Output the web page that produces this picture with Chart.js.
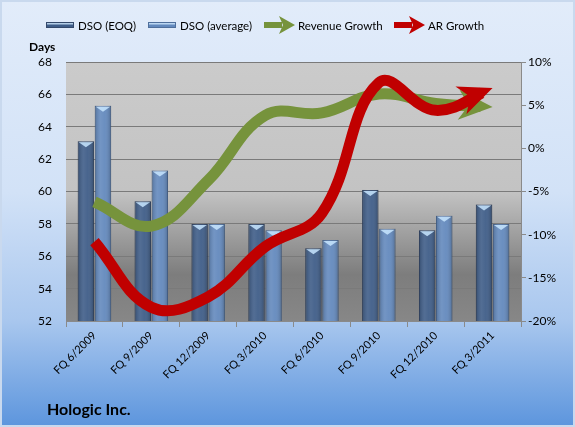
<!DOCTYPE html>
<html>
<head>
<meta charset="utf-8">
<script src="https://cdn.jsdelivr.net/npm/chart.js@4"></script>
<style>
  html, body { margin: 0; padding: 0; background: #fff; }
  #wrap { width: 575px; height: 427px; position: relative; }
</style>
</head>
<body>
<div id="wrap"><canvas id="chart" width="575" height="427"></canvas></div>
<script>
const categories = ["FQ 6/2009","FQ 9/2009","FQ 12/2009","FQ 3/2010","FQ 6/2010","FQ 9/2010","FQ 12/2010","FQ 3/2011"];
const dsoEoq = [63.1, 59.4, 58.0, 58.0, 56.5, 60.1, 57.6, 59.2];
const dsoAvg = [65.3, 61.3, 58.0, 57.6, 57.0, 57.7, 58.5, 58.0];
const revenueGrowth = [-6.2, -9.0, -3.7, 3.8, 4.1, 6.3, 5.2, 4.8];
const arGrowth = [-10.8, -18.4, -17.2, -11.4, -7.5, 7.6, 4.4, 7.0];
const daysTicks = [52, 54, 56, 58, 60, 62, 64, 66, 68];
const pctTicks = [-20, -15, -10, -5, 0, 5, 10];

const FONT = "Lato, 'Liberation Sans', sans-serif";

// backgrounds: outer blue panel and grey plot area
const backdrop = {
  id: "backdrop",
  beforeDraw(chart) {
    const { ctx, width, height, chartArea: a } = chart;
    ctx.save();
    let g = ctx.createLinearGradient(0, 0, 0, height);
    g.addColorStop(0, "#e2ecfa");
    g.addColorStop(0.45, "#d2e2f7");
    g.addColorStop(0.75, "#a9c7ee");
    g.addColorStop(1, "#5c95dd");
    ctx.fillStyle = g;
    ctx.fillRect(0, 0, width, height);
    ctx.strokeStyle = "#c9d9ee";
    ctx.lineWidth = 2;
    ctx.strokeRect(1, 1, width - 2, height - 2);
    g = ctx.createLinearGradient(0, a.top, 0, a.bottom);
    g.addColorStop(0, "#cbcbcb");
    g.addColorStop(0.5, "#c3c3c3");
    g.addColorStop(0.82, "#7d7d7d");
    g.addColorStop(1, "#878787");
    ctx.fillStyle = g;
    ctx.fillRect(a.left, a.top, a.right - a.left, a.bottom - a.top);
    ctx.restore();
  }
};

// cylinder shading on the bars
const barShade = {
  id: "barShade",
  afterDatasetDraw(chart, args) {
    const meta = args.meta;
    if (meta.type !== "bar") return;
    const { ctx, chartArea } = chart;
    ctx.save();
    meta.data.forEach(el => {
      const p = el.getProps(["x", "y", "base", "width"], true);
      const l = p.x - p.width / 2, w = p.width;
      const bottom = Math.min(p.base, chartArea.bottom);
      const g = ctx.createLinearGradient(l, 0, l + w, 0);
      g.addColorStop(0, "rgba(0,0,0,0.18)");
      g.addColorStop(0.35, "rgba(255,255,255,0.10)");
      g.addColorStop(0.6, "rgba(255,255,255,0.05)");
      g.addColorStop(1, "rgba(0,0,0,0.22)");
      ctx.fillStyle = g;
      ctx.fillRect(l, p.y, w, bottom - p.y);
      // top bevel
      ctx.beginPath();
      ctx.moveTo(l + 1, p.y + 1);
      ctx.lineTo(l + w - 1, p.y + 1);
      ctx.lineTo(p.x, p.y + 6);
      ctx.closePath();
      ctx.fillStyle = "rgba(200,230,255,0.85)";
      ctx.fill();
    });
    ctx.restore();
  }
};

// arrow heads at the end of the growth lines
function tipInfo(meta) {
  const pts = meta.data;
  const last = pts[pts.length - 1], prev = pts[pts.length - 2];
  let dx = last.x - (last.cp1x ?? prev.x), dy = last.y - (last.cp1y ?? prev.y);
  const len = Math.hypot(dx, dy) || 1;
  return { x: last.x, y: last.y, ux: dx / len, uy: dy / len };
}
const arrows = {
  id: "arrows",
  beforeDatasetDraw(chart, args) {
    if (args.meta.type !== "line") return;
    const t = tipInfo(args.meta);
    const { ctx, width, height } = chart;
    ctx.save();
    ctx.beginPath();
    ctx.rect(0, 0, width, height);
    ctx.moveTo(t.x + 13, t.y);
    ctx.arc(t.x, t.y, 13, 0, Math.PI * 2);
    ctx.clip("evenodd");
  },
  afterDatasetDraw(chart, args) {
    if (args.meta.type !== "line") return;
    const { ctx } = chart;
    ctx.restore();
    const t = tipInfo(args.meta);
    const ds = chart.data.datasets[args.index];
    const L = 28, H = 15, N = 6;
    const nx = -t.uy, ny = t.ux;
    const bx = t.x - t.ux * L, by = t.y - t.uy * L;
    ctx.save();
    ctx.fillStyle = ds.borderColor;
    ctx.beginPath();
    ctx.moveTo(t.x, t.y);
    ctx.lineTo(bx + nx * H - t.ux * N, by + ny * H - t.uy * N);
    ctx.lineTo(bx + t.ux * 4, by + t.uy * 4);
    ctx.lineTo(bx - nx * H - t.ux * N, by - ny * H - t.uy * N);
    ctx.closePath();
    ctx.fill();
    ctx.restore();
  }
};

// legend, "Days" label and company title
const decorations = {
  id: "decorations",
  afterDraw(chart) {
    const { ctx } = chart;
    const ds = chart.data.datasets;
    ctx.save();
    ctx.font = "11.5px " + FONT;
    ctx.fillStyle = "#000";
    ctx.textBaseline = "middle";
    const slots = [[46, 78], [148, 180], [264, 298], [394, 428]];
    ds.forEach((d, i) => {
      const [sx, tx] = slots[i];
      const y = 25;
      if (d.type === "bar") {
        ctx.fillStyle = d.backgroundColor;
        ctx.fillRect(sx, y - 3, 28, 6);
        ctx.strokeStyle = d.borderColor;
        ctx.lineWidth = 1;
        ctx.strokeRect(sx + 0.5, y - 2.5, 27, 5);
        ctx.fillStyle = "rgba(210,235,255,0.8)";
        ctx.fillRect(sx + 1, y - 2, 26, 1.5);
      } else {
        ctx.fillStyle = d.borderColor;
        ctx.fillRect(sx, y - 3, 18, 6);
        ctx.beginPath();
        ctx.moveTo(sx + 31, y);
        ctx.lineTo(sx + 15, y - 9);
        ctx.lineTo(sx + 19, y);
        ctx.lineTo(sx + 15, y + 9);
        ctx.closePath();
        ctx.fill();
      }
      ctx.fillStyle = "#000";
      ctx.textAlign = "left";
      ctx.fillText(d.label, tx, y + 1);
    });
    ctx.font = "bold 12px " + FONT;
    ctx.fillText("Days", 29, 47);
    ctx.font = "bold 16px " + FONT;
    ctx.fillText("Hologic Inc.", 47, 410);
    ctx.restore();
  }
};

new Chart(document.getElementById("chart"), {
  data: {
    labels: categories,
    datasets: [
      {
        type: "bar", label: "DSO (EOQ)", data: dsoEoq, yAxisID: "y",
        backgroundColor: "#3f5d88", borderColor: "#34496b", borderWidth: 1,
        order: 2, categoryPercentage: 0.6, barPercentage: 0.96
      },
      {
        type: "bar", label: "DSO (average)", data: dsoAvg, yAxisID: "y",
        backgroundColor: "#6389bd", borderColor: "#4f6f9c", borderWidth: 1,
        order: 3, categoryPercentage: 0.6, barPercentage: 0.96
      },
      {
        type: "line", label: "Revenue Growth", data: revenueGrowth, yAxisID: "y2",
        borderColor: "#76933c", borderWidth: 11, tension: 0.4, pointRadius: 0,
        borderCapStyle: "butt", order: 1
      },
      {
        type: "line", label: "AR Growth", data: arGrowth, yAxisID: "y2",
        borderColor: "#c00000", borderWidth: 11, tension: 0.4, pointRadius: 0,
        borderCapStyle: "butt", order: 0
      }
    ]
  },
  options: {
    responsive: false,
    animation: false,
    layout: { padding: { top: 62, left: 0, right: 0, bottom: 0 } },
    plugins: { legend: { display: false }, tooltip: { enabled: false } },
    scales: {
      x: {
        offset: true,
        grid: { offset: true, drawOnChartArea: false, tickLength: 6, color: "#8a8a8a" },
        border: { color: "#8a8a8a" },
        ticks: { minRotation: 45, maxRotation: 45, color: "#000", font: { family: FONT, size: 11 }, padding: 2 },
        afterFit(s) { s.height = 106; }
      },
      y: {
        position: "left", min: 52, max: 68,
        afterBuildTicks(s) { s.ticks = daysTicks.map(v => ({ value: v })); },
        grid: { color: "#7a7a7a", drawTicks: false },
        border: { display: false },
        ticks: { color: "#000", font: { family: FONT, size: 12 }, padding: 14 },
        afterFit(s) { s.width = 66; }
      },
      y2: {
        position: "right", min: -20, max: 10,
        afterBuildTicks(s) { s.ticks = pctTicks.map(v => ({ value: v })); },
        grid: { drawOnChartArea: false, tickLength: 5, color: "#8a8a8a" },
        border: { color: "#8a8a8a" },
        ticks: { color: "#000", font: { family: FONT, size: 12 }, padding: 2, callback: v => v + "%" },
        afterFit(s) { s.width = 54; }
      }
    }
  },
  plugins: [backdrop, barShade, arrows, decorations]
});
</script>
</body>
</html>
